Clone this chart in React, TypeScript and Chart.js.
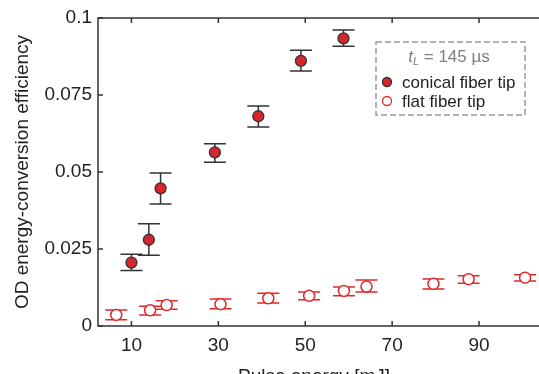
import React, { useEffect, useRef } from "react";
import { Chart, registerables } from "chart.js";

Chart.register(...registerables);

// Pulse energy [mJ] and OD energy-conversion efficiency, conical fiber tip
const conicalEnergy = [10.0, 14.0, 16.7, 29.2, 39.2, 49.0, 58.8];
const conicalEff = [0.0206, 0.028, 0.0447, 0.0564, 0.0681, 0.0861, 0.0934];
const conicalErrHigh = [0.0233, 0.0332, 0.0497, 0.0592, 0.0714, 0.0895, 0.0961];
const conicalErrLow = [0.018, 0.023, 0.0396, 0.0532, 0.0646, 0.0828, 0.0908];

// Flat fiber tip
const flatEnergy = [6.5, 14.3, 18.1, 30.5, 41.5, 50.9, 58.9, 64.1, 79.5, 87.6, 100.6];
const flatEff = [0.0036, 0.0051, 0.0068, 0.0071, 0.009, 0.0098, 0.0114, 0.0128, 0.0137, 0.0152, 0.0157];
const flatErrHigh = [0.0052, 0.0064, 0.0082, 0.0088, 0.0106, 0.011, 0.0127, 0.0149, 0.0153, 0.0163, 0.0166];
const flatErrLow = [0.002, 0.0036, 0.0054, 0.0056, 0.0075, 0.0085, 0.0098, 0.011, 0.012, 0.0139, 0.0146];

const xTickValues = [10, 30, 50, 70, 90];
const yTickValues = [0, 0.025, 0.05, 0.075, 0.1];
const yTickLabels = ["0", "0.025", "0.05", "0.075", "0.1"];

const seriesNames = ["conical fiber tip", "flat fiber tip"];
const legendTitleValue = "145";

const FONT = '"Liberation Sans", Arial, Helvetica, sans-serif';
const AXIS = "#333333";
const RED = "#d7262b";
const RED_LINE = "#e0282a";

const errorSets = [
  { low: conicalErrLow, high: conicalErrHigh, color: "#333333" },
  { low: flatErrLow, high: flatErrHigh, color: RED_LINE },
];

const decorPlugin = {
  id: "decor",
  beforeDatasetsDraw(chart: any) {
    const { ctx, scales } = chart;
    const xs = scales.x;
    const ys = scales.y;
    ctx.save();
    ctx.lineWidth = 1.5;
    errorSets.forEach((set, di) => {
      const xsData = di === 0 ? conicalEnergy : flatEnergy;
      ctx.strokeStyle = set.color;
      xsData.forEach((xv, i) => {
        const px = xs.getPixelForValue(xv);
        const pLo = ys.getPixelForValue(set.low[i]);
        const pHi = ys.getPixelForValue(set.high[i]);
        ctx.beginPath();
        ctx.moveTo(px, pLo);
        ctx.lineTo(px, pHi);
        ctx.moveTo(px - 11, pLo);
        ctx.lineTo(px + 11, pLo);
        ctx.moveTo(px - 11, pHi);
        ctx.lineTo(px + 11, pHi);
        ctx.stroke();
      });
    });
    ctx.restore();
  },
  afterDraw(chart: any) {
    const { ctx, chartArea, scales } = chart;
    const { left, right, top, bottom } = chartArea;
    const xs = scales.x;
    const ys = scales.y;
    ctx.save();
    // axis frame: left, bottom, top
    ctx.strokeStyle = AXIS;
    ctx.lineWidth = 1.5;
    ctx.beginPath();
    ctx.moveTo(right + 2, top);
    ctx.lineTo(left, top);
    ctx.lineTo(left, bottom);
    ctx.lineTo(right + 2, bottom);
    ctx.stroke();
    // inward tick marks
    ctx.beginPath();
    xTickValues.forEach((v) => {
      const px = xs.getPixelForValue(v);
      ctx.moveTo(px, bottom);
      ctx.lineTo(px, bottom - 5);
      ctx.moveTo(px, top);
      ctx.lineTo(px, top + 5);
    });
    yTickValues.forEach((v) => {
      const py = ys.getPixelForValue(v);
      ctx.moveTo(left, py);
      ctx.lineTo(left + 5, py);
    });
    ctx.stroke();

    // axis titles
    ctx.fillStyle = "#222222";
    ctx.font = `19px ${FONT}`;
    ctx.textAlign = "center";
    ctx.textBaseline = "alphabetic";
    ctx.fillText("Pulse energy [mJ]", 314, 382);
    ctx.save();
    ctx.translate(28, (top + bottom) / 2);
    ctx.rotate(-Math.PI / 2);
    ctx.fillText("OD energy-conversion efficiency", 0, 0);
    ctx.restore();

    // legend box
    const bx = 376, by = 42, bw = 149, bh = 73;
    ctx.strokeStyle = "#9a9a9a";
    ctx.lineWidth = 1.5;
    ctx.setLineDash([6, 3]);
    ctx.strokeRect(bx, by, bw, bh);
    ctx.setLineDash([]);

    // legend title: t_L = 145 µs
    ctx.fillStyle = "#808080";
    ctx.textAlign = "left";
    ctx.textBaseline = "alphabetic";
    const titleBase = 62;
    ctx.font = `italic 17px ${FONT}`;
    const tW = ctx.measureText("t").width;
    ctx.font = `italic 11px ${FONT}`;
    const lW = ctx.measureText("L").width;
    ctx.font = `17px ${FONT}`;
    const rest = ` = ${legendTitleValue} \u00b5s`;
    const rW = ctx.measureText(rest).width;
    let tx = 449 - (tW + lW + rW) / 2;
    ctx.font = `italic 17px ${FONT}`;
    ctx.fillText("t", tx, titleBase);
    tx += tW;
    ctx.font = `italic 11px ${FONT}`;
    ctx.fillText("L", tx, titleBase + 3);
    tx += lW;
    ctx.font = `17px ${FONT}`;
    ctx.fillText(rest, tx, titleBase);

    // legend entries
    ctx.font = `17px ${FONT}`;
    ctx.fillStyle = "#222222";
    ctx.textBaseline = "middle";
    const rows = [82, 101];
    rows.forEach((ry, i) => {
      ctx.beginPath();
      ctx.arc(387, ry, 4.5, 0, Math.PI * 2);
      if (i === 0) {
        ctx.fillStyle = RED;
        ctx.fill();
        ctx.strokeStyle = "#333333";
      } else {
        ctx.fillStyle = "#ffffff";
        ctx.fill();
        ctx.strokeStyle = RED_LINE;
      }
      ctx.lineWidth = 1.3;
      ctx.stroke();
      ctx.fillStyle = "#222222";
      ctx.fillText(seriesNames[i], 402, ry + 1);
    });
    ctx.restore();
  },
};

export default function App() {
  const canvasRef = useRef<HTMLCanvasElement | null>(null);

  useEffect(() => {
    if (!canvasRef.current) return;
    const chart = new Chart(canvasRef.current, {
      type: "scatter",
      data: {
        datasets: [
          {
            label: seriesNames[0],
            data: conicalEnergy.map((x, i) => ({ x, y: conicalEff[i] })),
            backgroundColor: RED,
            borderColor: "#333333",
            borderWidth: 1.3,
            pointRadius: 5.5,
          },
          {
            label: seriesNames[1],
            data: flatEnergy.map((x, i) => ({ x, y: flatEff[i] })),
            backgroundColor: "#ffffff",
            borderColor: RED_LINE,
            borderWidth: 1.5,
            pointRadius: 5.5,
          },
        ],
      },
      options: {
        animation: false,
        responsive: false,
        events: [],
        layout: { autoPadding: false, padding: { top: 18, right: 0, left: 0, bottom: 0 } },
        plugins: {
          legend: { display: false },
          tooltip: { enabled: false },
        },
        scales: {
          x: {
            type: "linear",
            min: 2.3,
            max: 103.8,
            grid: { display: false, drawTicks: false },
            border: { display: false },
            afterBuildTicks: (scale: any) => {
              scale.ticks = xTickValues.map((v) => ({ value: v }));
            },
            afterFit: (scale: any) => {
              scale.height = 48;
              scale.paddingLeft = 0;
              scale.paddingRight = 0;
            },
            ticks: {
              padding: 8,
              color: "#222222",
              font: { family: FONT, size: 19 },
              maxRotation: 0,
              callback: (v: any) => String(v),
            },
          },
          y: {
            type: "linear",
            min: 0,
            max: 0.1,
            grid: { display: false, drawTicks: false },
            border: { display: false },
            afterBuildTicks: (scale: any) => {
              scale.ticks = yTickValues.map((v) => ({ value: v }));
            },
            afterFit: (scale: any) => {
              scale.width = 98;
            },
            ticks: {
              padding: 6,
              color: "#222222",
              font: { family: FONT, size: 19 },
              callback: (v: any) => {
                const idx = yTickValues.findIndex((t) => Math.abs(t - v) < 1e-9);
                return idx >= 0 ? yTickLabels[idx] : "";
              },
            },
          },
        },
      },
      plugins: [decorPlugin],
    });
    return () => chart.destroy();
  }, []);

  return (
    <div style={{ position: "absolute", left: 0, top: 0, width: 539, height: 374, background: "#ffffff" }}>
      <canvas ref={canvasRef} width={539} height={374} style={{ display: "block", width: 539, height: 374 }} />
    </div>
  );
}
